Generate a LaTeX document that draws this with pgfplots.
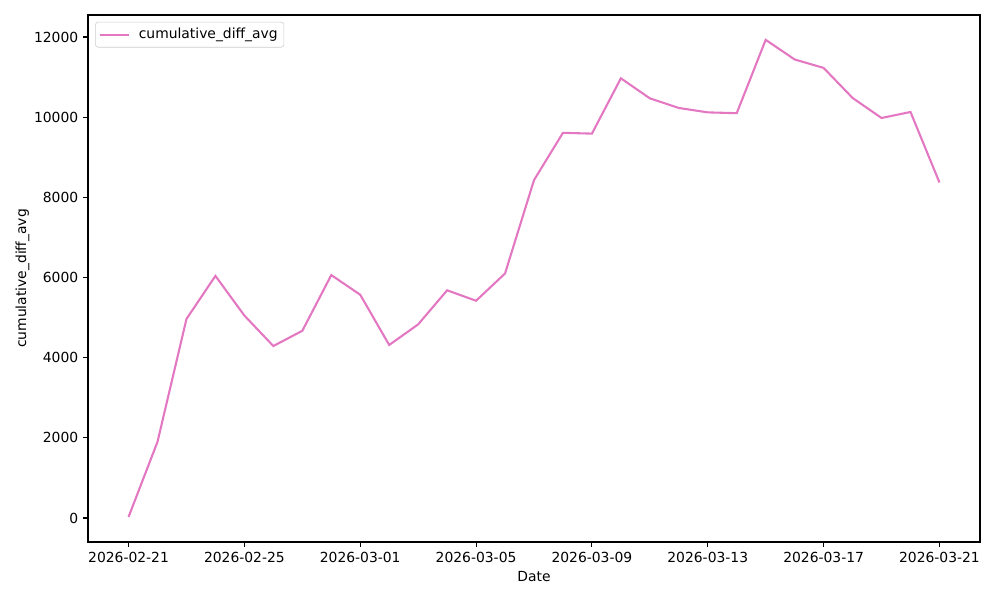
\documentclass[border=0pt]{standalone}
\usepackage{pgfplots}
\pgfplotsset{compat=1.18}
\usepackage{fontspec}
\setmainfont{DejaVu Sans}
\definecolor{tabpink}{HTML}{E377C2}
\begin{document}
\fontsize{10bp}{12bp}\selectfont
\begin{tikzpicture}
\begin{axis}[
  at={(0,0)}, anchor=south west,
  scale only axis, width=642.24bp, height=379.44bp,
  xmin=-1.4, xmax=29.4, ymin=-600, ymax=12550,
  xtick={0,4,8,12,16,20,24,28},
  xticklabels={2026-02-21,2026-02-25,2026-03-01,2026-03-05,2026-03-09,2026-03-13,2026-03-17,2026-03-21},
  ytick={0,2000,4000,6000,8000,10000,12000},
  scaled y ticks=false,
  yticklabel style={/pgf/number format/fixed, /pgf/number format/1000 sep={}},
  /pgf/number format/assume math mode=true,
  /pgf/number format/1000 sep={},
  tick label style={font=\fontsize{10bp}{12bp}\selectfont},
  label style={font=\fontsize{10bp}{12bp}\selectfont},
  tick align=outside, tick pos=left,
  major tick length=3.5bp,
  every tick/.style={black, line width=0.8bp},
  axis line style={line width=0.8bp},
  xlabel={Date}, ylabel={cumulative\_diff\_avg},
  ylabel style={yshift=-3.5bp},
  legend style={font=\fontsize{10bp}{12bp}\selectfont, draw=black!20, rounded corners=2bp, at={(0.008,0.987)}, anchor=north west, inner sep=2.5bp},
  legend cell align=left,
  legend image code/.code={\draw[#1] (0cm,0cm) -- (0.75cm,0cm);},
]
\addplot[tabpink, line width=1.5bp] coordinates {
(0,25) (1,1900) (2,4965) (3,6040) (4,5050) (5,4290) (6,4670) (7,6060)
(8,5570) (9,4316) (10,4830) (11,5680) (12,5420) (13,6100) (14,8430)
(15,9610) (16,9590) (17,10970) (18,10470) (19,10230) (20,10120) (21,10100)
(22,11930) (23,11440) (24,11230) (25,10480) (26,9980) (27,10130) (28,8370)
};
\addlegendentry{\hspace{4bp}cumulative\_diff\_avg}
\end{axis}
\pgfresetboundingbox
\path (-63.36bp,-41.76bp) rectangle (656.64bp,390.24bp);
\end{tikzpicture}
\end{document}
